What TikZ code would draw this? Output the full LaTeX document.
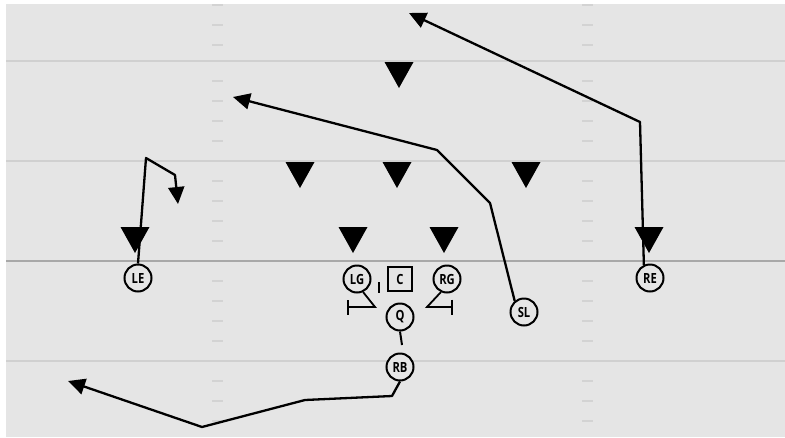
\documentclass[tikz,border=0pt]{standalone}
\usepackage{fontspec}
\setsansfont{Open Sans}[FakeStretch=0.8]
\usepackage{tikz}
\usetikzlibrary{arrows.meta}

\definecolor{field}{HTML}{E5E5E5}
\definecolor{yard}{HTML}{D0D0D0}
\definecolor{hashc}{HTML}{D3D3D3}
\definecolor{scrim}{HTML}{A8A8A8}

\tikzset{
	player/.style={circle, draw, line width=2pt, fill=field, inner sep=0pt,
		minimum size=27pt, font=\sffamily\bfseries\fontsize{14}{14}\selectfont},
	center/.style={rectangle, draw, line width=2pt, fill=field, inner sep=0pt,
		minimum size=24pt, font=\sffamily\bfseries\fontsize{14}{14}\selectfont},
	route/.style={line width=2.3pt, line join=round, -{Triangle[length=17pt,width=16pt]}},
	block/.style={line width=1.8pt, -{Bar[width=15pt,line width=1.8pt]}},
	hash/.style={hashc, line width=1.6pt}
}

\begin{document}
\begin{tikzpicture}[x=1pt,y=-1pt]
	\useasboundingbox (0,0) rectangle (785,437);
	\fill[white] (0,0) rectangle (785,437);
	\fill[field] (6,4) rectangle (785,437);
	
	% yard lines
	\foreach \y in {61,161,361}
		\draw[yard, line width=1.2pt] (6,\y) -- (785,\y);
	\draw[scrim, line width=1.6pt] (6,261) -- (785,261);
	
	% hash marks
	\foreach \y in {5,25,45,81,101,121,141,181,201,221,241,281,301,321,341,381,401,421} {
		\draw[hash] (212,\y) -- (223,\y);
		\draw[hash] (582,\y) -- (593,\y);
	}
	
	% defense
	\foreach \x/\y in {399/62, 300/162, 397/162, 526/162, 135/227, 353/227, 444/227, 649/227}
		\fill (\x-14.5,\y) -- (\x+14.5,\y) -- (\x,\y+26) -- cycle;
	
	% offense
	\node[player] (LE) at (138,278) {LE};
	\node[player] (LG) at (357,279) {LG};
	\node[center] (C) at (400,279) {C};
	\node[player] (RG) at (447,279) {RG};
	\node[player] (Q) at (400,317) {Q};
	\node[player] (SL) at (524,312) {SL};
	\node[player] (RE) at (650,278) {RE};
	\node[player] (RB) at (400,367) {RB};
	
	\coordinate (LEturn) at (146,158);
	\coordinate (LEbreak) at (175,175);
	\coordinate (LEend) at (178,204);
	\coordinate (REturn) at (640,122);
	\coordinate (REend) at (409,13);
	\coordinate (SLturn) at (490,203);
	\coordinate (SLbreak) at (437,150);
	\coordinate (SLend) at (233,97);
	\coordinate (RBturn) at (392,396);
	\coordinate (RBflat) at (305,400);
	\coordinate (RBdip) at (202,427);
	\coordinate (RBend) at (68,381);
	\coordinate (LGbend) at (375,307);
	\coordinate (LGend) at (347,307);
	\coordinate (RGbend) at (427,307);
	\coordinate (RGend) at (453,307);
	\coordinate (Qstep) at (402,345);
	
	% routes
	\draw[route] (LE.north) -- (LEturn) -- (LEbreak) -- (LEend);
	\draw[route] (RE.115) -- (REturn) -- (REend);
	\draw[route] (SL.130) -- (SLturn) -- (SLbreak) -- (SLend);
	\draw[route] (RB.south) -- (RBturn) -- (RBflat) -- (RBdip) -- (RBend);
	
	% blocks
	\draw[block] (LG.-65) -- (LGbend) -- (LGend);
	\draw[block] (RG.-115) -- (RGbend) -- (RGend);
	\draw[line width=1.8pt] (379,282) -- (379,293);
	\draw[line width=2pt] (Q.south) -- (Qstep);
	
\end{tikzpicture}
\end{document}
